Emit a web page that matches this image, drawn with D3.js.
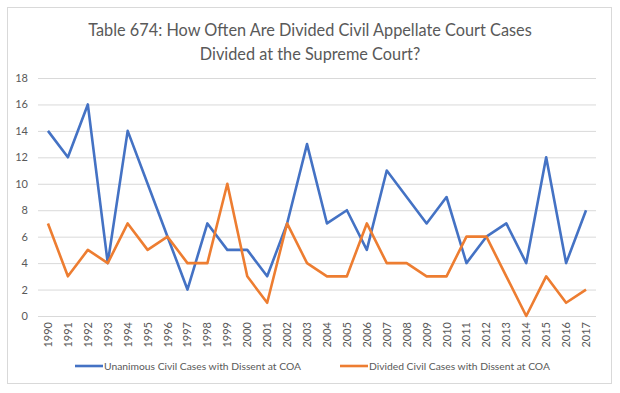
<!DOCTYPE html>
<html><head><meta charset="utf-8">
<script src="https://cdn.jsdelivr.net/npm/d3@7"></script>
<style>body{margin:0;background:#fff}svg{display:block}</style>
</head><body><svg id="c" width="620" height="393"></svg>
<script>
const years = ["1990","1991","1992","1993","1994","1995","1996","1997","1998","1999","2000","2001","2002","2003","2004","2005","2006","2007","2008","2009","2010","2011","2012","2013","2014","2015","2016","2017"];
const unanimous = [14,12,16,4,14,10,6,2,7,5,5,3,7,13,7,8,5,11,9,7,9,4,6,7,4,12,4,8];
const divided = [7,3,5,4,7,5,6,4,4,10,3,1,7,4,3,3,7,4,4,3,3,6,6,3,0,3,1,2];
const yTicks = [0,2,4,6,8,10,12,14,16,18];
const titleLines = ["Table 674: How Often Are Divided Civil Appellate Court Cases","Divided at the Supreme Court?"];
const seriesNames = ["Unanimous Civil Cases with Dissent at COA","Divided Civil Cases with Dissent at COA"];
const colors = ["#4472C4","#ED7D31"];

const svg = d3.select("#c");
const font = "Lato, 'Open Sans', sans-serif";
svg.append("rect").attr("x",7.5).attr("y",7.5).attr("width",604).attr("height",376)
  .attr("fill","#fff").attr("stroke","#d9d9d9");

const x = d3.scalePoint().domain(years).range([38,596]).padding(0.5);
const y = d3.scaleLinear().domain([0,18]).range([316,78]);

svg.selectAll("text.title").data(titleLines).join("text")
  .attr("x",310).attr("y",(d,i)=>36+i*24).attr("text-anchor","middle")
  .attr("font-family",font).attr("font-size",16.3).attr("fill","#595959").text(d=>d);

const gy = svg.append("g").attr("transform","translate(38,0)")
  .call(d3.axisLeft(y).tickValues(yTicks).tickSize(-558).tickPadding(10));
gy.select(".domain").remove();
gy.selectAll("line").attr("stroke","#d9d9d9");
gy.selectAll("text").attr("font-family",font).attr("font-size",11).attr("fill","#595959");

const gx = svg.append("g").attr("transform","translate(0,316)")
  .call(d3.axisBottom(x).tickSize(0));
gx.select(".domain").remove();
gx.selectAll("text").attr("font-family",font).attr("font-size",11).attr("fill","#595959")
  .attr("transform","rotate(-90)").attr("text-anchor","end").attr("dx","-6").attr("dy","0.32em").attr("y",0).attr("x",0);

const line = d3.line().x((d,i)=>x(years[i])).y(d=>y(d));
[unanimous,divided].forEach((s,k)=>{
  svg.append("path").datum(s).attr("d",line).attr("fill","none")
    .attr("stroke",colors[k]).attr("stroke-width",2.6).attr("stroke-linejoin","round");
});

const legX = [75,340];
seriesNames.forEach((n,k)=>{
  svg.append("line").attr("x1",legX[k]).attr("x2",legX[k]+28).attr("y1",366).attr("y2",366)
    .attr("stroke",colors[k]).attr("stroke-width",2.6);
  svg.append("text").attr("x",legX[k]+29).attr("y",370).attr("font-family",font)
    .attr("font-size",10.3).attr("fill","#595959").text(n);
});
</script></body></html>
